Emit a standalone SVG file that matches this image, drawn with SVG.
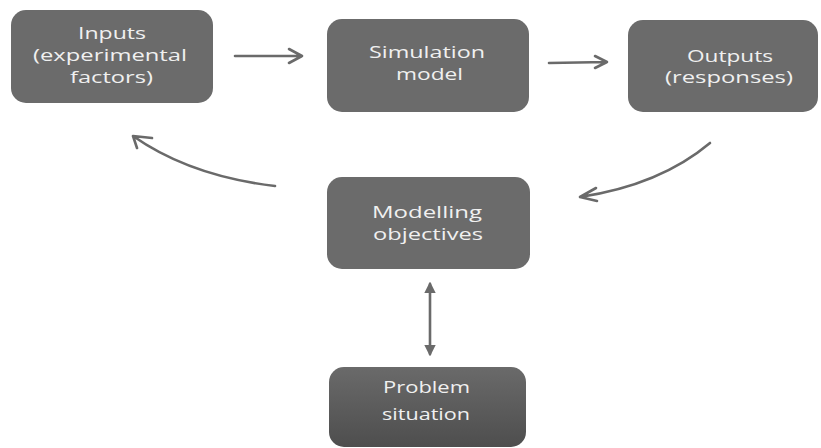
<svg xmlns="http://www.w3.org/2000/svg" width="821" height="448" viewBox="0 0 821 448">
  <defs>
    <linearGradient id="darkFade" x1="0" y1="0" x2="0" y2="1">
      <stop offset="0" stop-color="#6a6a6a"/>
      <stop offset="1" stop-color="#4e4e4e"/>
    </linearGradient>
    <marker id="solidHead" viewBox="0 0 10 10" refX="8" refY="5" markerWidth="4.5" markerHeight="4.5" orient="auto-start-reverse" markerUnits="strokeWidth">
      <path d="M0,0 L10,5 L0,10 Z" fill="#6a6a6a"/>
    </marker>
  </defs>
  <style>
    .box { fill: #6b6b6b; }
    .label { font-family: "Open Sans", "Liberation Sans", sans-serif; font-size: 17px; fill: #f0f0f0; text-anchor: middle; }
    .small { font-size: 16px; }
    .wire { fill: none; stroke: #6a6a6a; stroke-width: 2.6; stroke-linecap: round; stroke-linejoin: round; }
  </style>
  <rect width="821" height="448" fill="#ffffff"/>

  <g id="inputs">
    <rect class="box" x="11" y="10" width="202" height="93" rx="15"/>
    <text class="label" x="112" y="39" textLength="68" lengthAdjust="spacingAndGlyphs">Inputs</text>
    <text class="label" x="110" y="61" textLength="154" lengthAdjust="spacingAndGlyphs">(experimental</text>
    <text class="label" x="111.5" y="82.5" textLength="83" lengthAdjust="spacingAndGlyphs">factors)</text>
  </g>

  <g id="simulation-model">
    <rect class="box" x="327" y="19" width="202" height="93" rx="15"/>
    <text class="label" x="427" y="58" textLength="116" lengthAdjust="spacingAndGlyphs">Simulation</text>
    <text class="label" x="429.5" y="80" textLength="67" lengthAdjust="spacingAndGlyphs">model</text>
  </g>

  <g id="outputs">
    <rect class="box" x="628" y="20" width="190" height="92" rx="15"/>
    <text class="label" x="730" y="61.5" textLength="86" lengthAdjust="spacingAndGlyphs">Outputs</text>
    <text class="label" x="729" y="83" textLength="128" lengthAdjust="spacingAndGlyphs">(responses)</text>
  </g>

  <g id="modelling-objectives">
    <rect class="box" x="327" y="177" width="203" height="92" rx="15"/>
    <text class="label" x="427" y="218" textLength="110" lengthAdjust="spacingAndGlyphs">Modelling</text>
    <text class="label" x="428" y="240" textLength="110" lengthAdjust="spacingAndGlyphs">objectives</text>
  </g>

  <g id="problem-situation">
    <rect x="329" y="367" width="197" height="80" rx="15" fill="url(#darkFade)"/>
    <text class="label small" x="426.5" y="393" textLength="87" lengthAdjust="spacingAndGlyphs">Problem</text>
    <text class="label small" x="426" y="420" textLength="88" lengthAdjust="spacingAndGlyphs">situation</text>
  </g>

  <g id="connectors">
    <!-- inputs to model -->
    <path class="wire" d="M235,56 L302,56 M289,49 L302,56 L289,63"/>
    <!-- model to outputs -->
    <path class="wire" d="M549,63 L607,62 M595,56 L607,62 L595,68"/>
    <!-- outputs feed back to objectives -->
    <path class="wire" d="M710,143 Q660,185 580,197 M596,188 L580,197 L597,201"/>
    <!-- objectives drive the inputs -->
    <path class="wire" d="M275,186 Q190,176 133,136 M152,138 L133,136 L137,148"/>
    <!-- objectives and problem situation -->
    <line class="wire" x1="430" y1="284" x2="430" y2="354" stroke-width="2" marker-start="url(#solidHead)" marker-end="url(#solidHead)"/>
  </g>
</svg>
